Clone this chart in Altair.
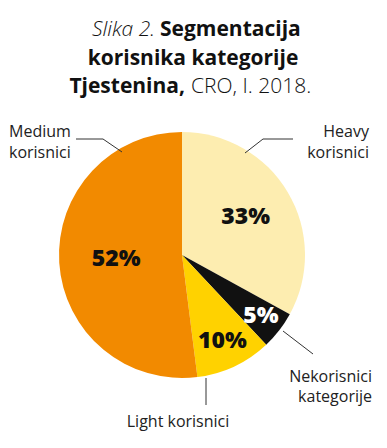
import altair as alt
import pandas as pd

categories = ["Heavy korisnici", "Nekorisnici kategorije", "Light korisnici", "Medium korisnici"]
values = [33, 5, 10, 52]
labels = ["33%", "5%", "10%", "52%"]
colors = ["#FDEDB0", "#111111", "#FFD200", "#F28A00"]

df = pd.DataFrame({"category": categories, "value": values, "label": labels,
                   "idx": list(range(len(categories)))})

OFF = 8
CX, CY, R = 182 - OFF, 255 - OFF, 123
FONT = "Open Sans"

base = alt.Chart(df)

pie = base.mark_arc(outerRadius=R).encode(
    theta=alt.Theta("value:Q", stack=True),
    order=alt.Order("idx:Q"),
    color=alt.Color("category:N", scale=alt.Scale(domain=categories, range=colors), legend=None),
    x=alt.value(CX), y=alt.value(CY),
)

label_radius = {"Heavy korisnici": 74, "Nekorisnici kategorije": 100,
                "Light korisnici": 95, "Medium korisnici": 66}
label_color = {"Nekorisnici kategorije": "white"}

layers = [pie]
for cat in categories:
    t = base.transform_window(
        cum="sum(value)", sort=[alt.SortField("idx")]
    ).transform_calculate(
        mid="datum.cum - datum.value / 2"
    ).transform_filter(
        alt.datum.category == cat
    ).mark_text(
        font=FONT, fontSize=23, fontWeight=800, radius=label_radius[cat],
        color=label_color.get(cat, "#111111"), baseline="middle", align="center"
    ).encode(
        theta=alt.Theta("mid:Q", scale=alt.Scale(domain=[0, 100])),
        text="label:N",
        x=alt.value(CX), y=alt.value(CY),
    )
    layers.append(t)

def txt(s, x, y, size=16, weight="normal", style="normal", align="left", color="#222222"):
    return alt.Chart(pd.DataFrame({"t": [s]})).mark_text(
        font=FONT, fontSize=size, fontWeight=weight, fontStyle=style, align=align,
        baseline="alphabetic", color=color
    ).encode(text="t:N", x=alt.value(x - OFF), y=alt.value(y - OFF))

def line(x1, y1, x2, y2):
    return alt.Chart(pd.DataFrame({"a": [0]})).mark_rule(color="#333333", strokeWidth=1).encode(
        x=alt.value(x1 - OFF), y=alt.value(y1 - OFF), x2=alt.value(x2 - OFF), y2=alt.value(y2 - OFF))

TS = 21
title = [
    txt("Slika 2.", 155, 36, TS, 300, "italic", "right", "#111111"),
    txt("Segmentacija", 160, 36, TS, "bold", "normal", "left", "#111111"),
    txt("korisnika kategorije", 193, 65, TS, "bold", "normal", "center", "#111111"),
    txt("Tjestenina,", 185, 93, TS, "bold", "normal", "right", "#111111"),
    txt("CRO, I. 2018.", 191, 93, TS, 300, "normal", "left", "#111111"),
]

annots = [
    txt("Medium", 9, 137), txt("korisnici", 9, 158),
    txt("Heavy", 369, 137, align="right"), txt("korisnici", 369, 158, align="right"),
    txt("Nekorisnici", 372, 382, align="right"), txt("kategorije", 372, 402, align="right"),
    txt("Light korisnici", 178, 427, align="center"),
    line(76, 139, 103, 139), line(103, 139, 122, 152),
    line(293, 139, 263, 139), line(263, 139, 245, 153),
    line(283, 331, 313, 354),
    line(206, 378, 206, 405),
]

chart = alt.layer(*layers, *title, *annots).resolve_scale(theta="independent").properties(
    width=371, height=432, autosize="none", padding=0
).configure_view(stroke=None)

chart.save("out.html", embed_options={"renderer": "svg", "actions": False})
